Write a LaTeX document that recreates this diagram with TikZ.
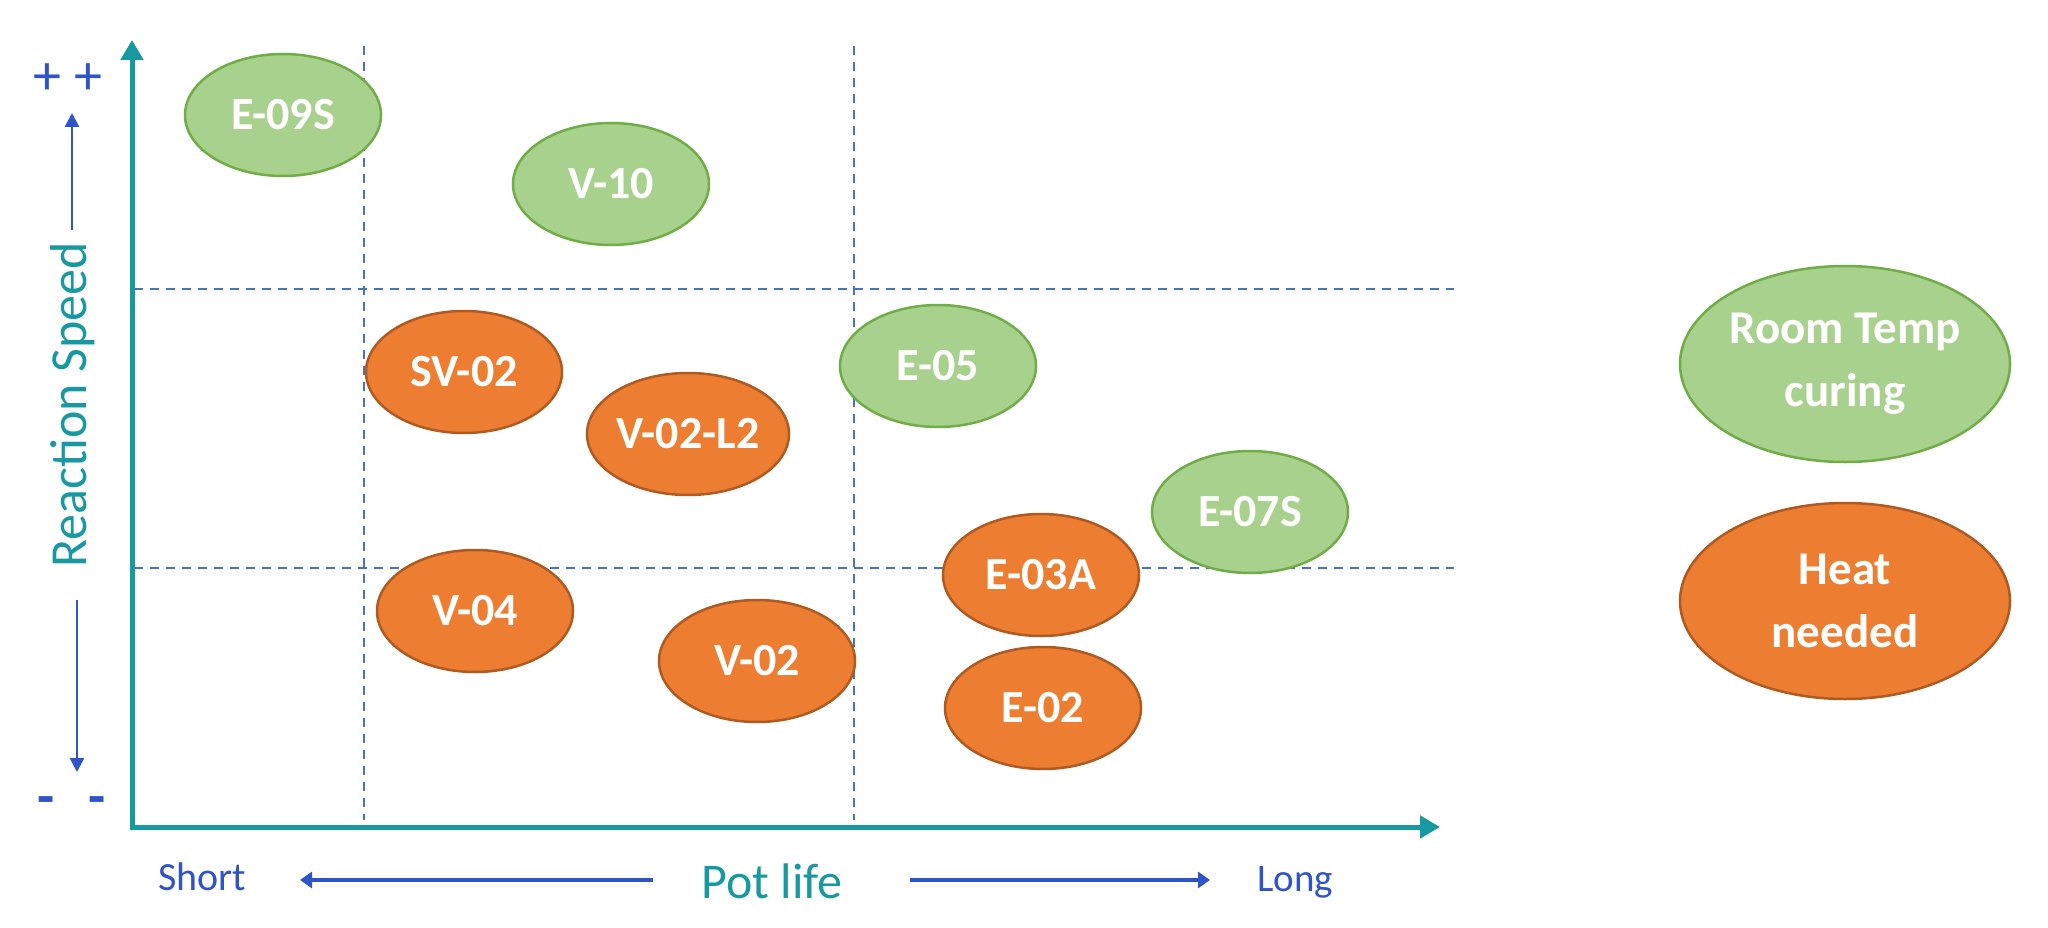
\documentclass[tikz,border=0pt]{standalone}
\usepackage{fontspec}
\setmainfont{Carlito}
\usetikzlibrary{shapes.geometric,arrows.meta}
\definecolor{teal1}{RGB}{24,152,160}
\definecolor{blue1}{RGB}{47,84,200}
\definecolor{dashblue}{RGB}{68,114,196}
\definecolor{gfill}{RGB}{169,209,142}
\definecolor{gdraw}{RGB}{112,173,71}
\definecolor{ofill}{RGB}{237,125,49}
\definecolor{odraw}{RGB}{174,90,33}
\begin{document}
\begin{tikzpicture}[x=1pt,y=-1pt,
  blob/.style={ellipse, line width=2.5pt, minimum width=196pt, minimum height=122pt, inner sep=0pt, text=white, font=\fontsize{46}{56}\selectfont\bfseries},
  grn/.style={blob, fill=gfill, draw=gdraw},
  org/.style={blob, fill=ofill, draw=odraw},
  legend/.style={minimum width=330pt, minimum height=196pt, align=center, font=\fontsize{47}{63}\selectfont\bfseries},
  gridline/.style={dashblue, line width=2.5pt, dash pattern=on 9pt off 7pt},
  axis/.style={teal1, line width=5pt, {Triangle[length=20pt,width=22pt]}-{Triangle[length=20pt,width=22pt]}},
  smallarrow/.style={blue1, line width=2.5pt, -{Triangle[length=14pt,width=14pt]}},
  dirarrow/.style={blue1, line width=3.5pt, -{Triangle[length=12pt,width=16pt]}},
]
\useasboundingbox (0,0) rectangle (2048,928);
\fill[white] (0,0) rectangle (2048,928);

% grid lines
\coordinate (v1a) at (364,46);  \coordinate (v1b) at (364,820);
\coordinate (v2a) at (854,46);  \coordinate (v2b) at (854,820);
\coordinate (h1a) at (134,289); \coordinate (h1b) at (1454,289);
\coordinate (h2a) at (134,568); \coordinate (h2b) at (1454,568);
\draw[gridline] (v1a) -- (v1b);
\draw[gridline] (v2a) -- (v2b);
\draw[gridline] (h1a) -- (h1b);
\draw[gridline] (h2a) -- (h2b);

% axes
\coordinate (ytop) at (132,40);
\coordinate (orig) at (132,827);
\coordinate (xend) at (1440,827);
\draw[axis] (ytop) -- (orig) -- (xend);

% ellipses
\node[grn] (e09s) at (283,115) {E-09S};
\node[grn] (v10) at (611,184) {V-10};
\node[org] (sv02) at (464,372) {SV-02};
\node[org] (v02l2) at (688,434) {V-02-L2};
\node[grn] (e05) at (938,366) {E-05};
\node[grn] (e07s) at (1250,512) {E-07S};
\node[org] (e03a) at (1041,575) {E-03A};
\node[org] (v04) at (475,611) {V-04};
\node[org] (v02) at (757,661) {V-02};
\node[org] (e02) at (1043,708) {E-02};

% legend
\node[grn, legend] (room) at (1845,364) {Room Temp\\curing};
\node[org, legend] (heat) at (1845,601) {Heat\\needed};

% y-axis label
\node[rotate=90, anchor=base, text=teal1, font=\fontsize{52}{62}\selectfont, inner sep=0pt] (rs) at (86,405) {Reaction Speed};
\node[anchor=base, text=blue1, font=\fontsize{56}{60}\selectfont, inner sep=0pt] (pp) at (68,95) {+ +};
\node[anchor=base, text=blue1, font=\fontsize{56}{60}\selectfont\bfseries, inner sep=0pt] (mm) at (72,815) {-\hspace{34pt}-};
\coordinate (upa) at (72,230);  \coordinate (upb) at (72,113);
\coordinate (dna) at (77,600);  \coordinate (dnb) at (77,772);
\draw[smallarrow] (upa) -- (upb);
\draw[smallarrow] (dna) -- (dnb);

% x-axis label
\node[anchor=base, text=teal1, font=\fontsize{50}{60}\selectfont, inner sep=0pt] (pl) at (772,898) {Pot life};
\node[anchor=base, text=blue1, font=\fontsize{40}{48}\selectfont, inner sep=0pt] (short) at (202,890) {Short};
\node[anchor=base, text=blue1, font=\fontsize{39}{48}\selectfont, inner sep=0pt] (long) at (1295,891) {Long};
\coordinate (la) at (653,880); \coordinate (lb) at (300,880);
\coordinate (ra) at (910,880); \coordinate (rb) at (1210,880);
\draw[dirarrow] (la) -- (lb);
\draw[dirarrow] (ra) -- (rb);
\end{tikzpicture}
\end{document}
